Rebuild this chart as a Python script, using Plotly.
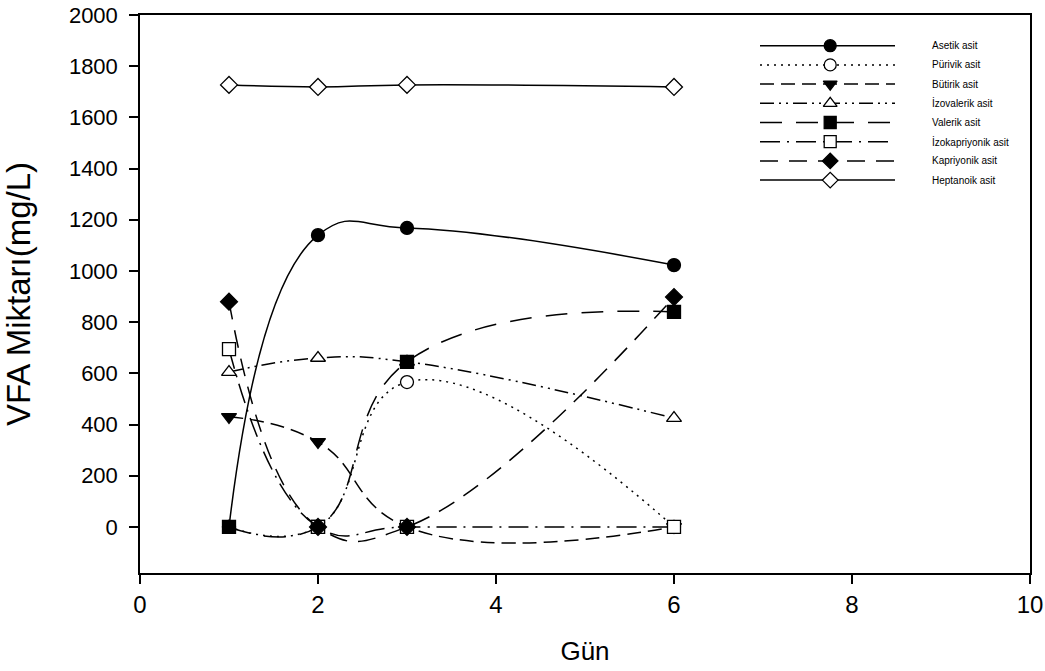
import plotly.graph_objects as go

days = [1, 2, 3, 6]
asetik = [0, 1140, 1168, 1023]
purivik = [0, 0, 566, 0]
butirik = [430, 332, 0, 0]
izovalerik = [605, 660, 645, 425]
valerik = [0, 0, 645, 840]
izokapriyonik = [695, 0, 0, 0]
kapriyonik = [880, 0, 0, 898]
heptanoik = [1727, 1719, 1727, 1719]

names = ["Asetik asit", "Pürivik asit", "Bütirik asit", "İzovalerik asit",
         "Valerik asit", "İzokapriyonik asit", "Kapriyonik asit", "Heptanoik asit"]
series = [asetik, purivik, butirik, izovalerik, valerik, izokapriyonik, kapriyonik, heptanoik]
dashes = ["solid", "2px,5px", "14px,7px", "14px,5px,2px,5px,2px,5px",
          "22px,14px", "20px,7px,2px,7px", "18px,11px", "solid"]
symbols = ["circle", "circle", "triangle-down", "triangle-up",
           "square", "square", "diamond", "diamond"]
fills = ["black", "white", "black", "white", "black", "white", "black", "white"]

x_ticks = [0, 2, 4, 6, 8, 10]
y_ticks = [0, 200, 400, 600, 800, 1000, 1200, 1400, 1600, 1800, 2000]

W, H = 1045, 671
# plot area in pixels: x 140..1030, y 15..573
L, R, T, B = 140, 1030, 15, 573
PW, PH = R - L, B - T

fig = go.Figure()
for nm, ys, dsh, sym, fc in zip(names, series, dashes, symbols, fills):
    fig.add_trace(go.Scatter(
        x=days, y=ys, name=nm, mode="lines+markers",
        line=dict(color="black", width=1.5, dash=dsh, shape="spline", smoothing=1.3),
        marker=dict(symbol=sym, size=13, color=fc, line=dict(color="black", width=1.3)),
        showlegend=False, cliponaxis=False,
    ))

# custom legend on auxiliary axes
leg_x0, leg_x1 = 760, 895
row0, drow = 45.7, 19.2
for i, (nm, dsh, sym, fc) in enumerate(zip(names, dashes, symbols, fills)):
    fig.add_trace(go.Scatter(
        x=[0, 1], y=[i, i], mode="lines", xaxis="x2", yaxis="y2",
        line=dict(color="black", width=1.5, dash=dsh), showlegend=False, hoverinfo="skip",
    ))
    fig.add_trace(go.Scatter(
        x=[0.52], y=[i], mode="markers", xaxis="x2", yaxis="y2",
        marker=dict(symbol=sym, size=12, color=fc, line=dict(color="black", width=1.3)),
        showlegend=False, hoverinfo="skip",
    ))
    fig.add_annotation(x=(930 - L) / PW, y=(B - (row0 + drow * i)) / PH,
                       xref="paper", yref="paper", text=nm, showarrow=False,
                       xanchor="left", yanchor="middle",
                       font=dict(family="Liberation Sans", size=10, color="black"))

top_px = row0 - drow / 2
bot_px = row0 + drow * 7.5
fig.update_layout(
    width=W, height=H,
    margin=dict(l=L, r=W - R, t=T, b=H - B, autoexpand=False),
    paper_bgcolor="white", plot_bgcolor="white",
    font=dict(family="Liberation Sans", color="black"),
    xaxis=dict(range=[0, 10], tickvals=x_ticks, showgrid=False, zeroline=False,
               showline=True, linecolor="black", linewidth=1.5, mirror=True,
               ticks="outside", ticklen=9, tickwidth=1.5, tickcolor="black",
               automargin=False, ticklabeloverflow="allow",
               tickfont=dict(size=24, family="Liberation Sans Narrow, Liberation Sans"),
               title=dict(text="Gün", font=dict(size=26, family="Liberation Sans Narrow, Liberation Sans"),
                          standoff=25)),
    yaxis=dict(range=[-180, 2000], tickvals=y_ticks, showgrid=False, zeroline=False,
               showline=True, linecolor="black", linewidth=1.5, mirror=True,
               ticks="outside", ticklen=9, tickwidth=1.5, tickcolor="black",
               automargin=False, ticklabeloverflow="allow", ticklabelstandoff=7,
               tickfont=dict(size=22),
               title=dict(text="VFA Miktarı(mg/L)", font=dict(size=33), standoff=46)),
    xaxis2=dict(domain=[(leg_x0 - L) / PW, (leg_x1 - L) / PW], range=[0, 1], anchor="y2",
                visible=False, showgrid=False, zeroline=False),
    yaxis2=dict(domain=[(B - bot_px) / PH, (B - top_px) / PH], range=[7.5, -0.5], anchor="x2",
                visible=False, showgrid=False, zeroline=False),
)

fig.write_html("out.html", config={"displayModeBar": False},
               post_script="document.body.style.margin='0';document.body.style.overflow='hidden';")
